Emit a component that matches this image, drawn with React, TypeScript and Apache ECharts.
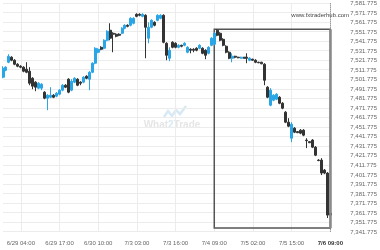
import React, { useEffect, useRef } from "react";
import * as echarts from "echarts";

// candle index of each x tick label
const tickIndex = [6, 19, 32, 45, 58, 71, 84, 97, 110];
const tickLabels = ["6/29 04:00", "6/29 17:00", "6/30 10:00", "7/3 03:00", "7/3 16:00", "7/4 09:00", "7/5 02:00", "7/5 15:00", "7/6 09:00"];

const open = [
  7503.9, 7511.2, 7519.6, 7524.9, 7521.7, 7517.5, 7515.4, 7514.4, 7512.3, 7510.2,
  7502.8, 7498.7, 7492.4, 7492.4, 7488.2, 7481.9, 7482.9, 7485.0, 7484.0, 7486.1,
  7490.3, 7495.5, 7501.8, 7490.3, 7498.7, 7501.8, 7498.7, 7498.7, 7504.9, 7501.8,
  7509.1, 7518.6, 7530.1, 7535.3, 7534.3, 7542.7, 7553.2, 7550.0, 7549.0, 7549.0,
  7550.0, 7555.3, 7558.4, 7558.4, 7560.5, 7569.9, 7569.9, 7567.8, 7568.9, 7544.8,
  7556.3, 7561.5, 7563.6, 7565.7, 7568.9, 7539.5, 7523.8, 7540.6, 7539.5, 7535.3,
  7537.4, 7537.4, 7530.1, 7533.2, 7533.2, 7534.3, 7534.3, 7534.3, 7532.2, 7529.0,
  7537.4, 7538.5, 7553.2, 7550.0, 7543.7, 7536.4, 7530.1, 7523.8, 7525.9, 7524.9,
  7523.8, 7524.9, 7524.9, 7521.7, 7522.8, 7521.7, 7519.6, 7519.6, 7517.5, 7493.4,
  7474.5, 7479.8, 7480.8, 7482.9, 7476.6, 7467.2, 7456.7, 7439.9, 7450.4, 7446.8,
  7448.3, 7448.3, 7437.9, 7436.3, 7437.9, 7430.5, 7416.9, 7416.9, 7406.4, 7403.3,
  7361.3,
];
const close = [
  7513.3, 7514.4, 7525.9, 7521.7, 7517.5, 7515.4, 7514.4, 7510.2, 7509.1, 7497.6,
  7494.5, 7493.4, 7497.6, 7496.6, 7481.9, 7485.0, 7485.0, 7482.9, 7487.1, 7490.3,
  7495.5, 7493.4, 7488.2, 7499.7, 7502.8, 7495.5, 7497.6, 7503.9, 7502.8, 7509.1,
  7518.6, 7534.3, 7533.2, 7533.2, 7542.7, 7552.1, 7544.8, 7549.0, 7546.9, 7547.9,
  7555.3, 7558.4, 7557.3, 7565.7, 7565.7, 7567.8, 7568.9, 7569.9, 7556.3, 7556.3,
  7563.6, 7558.4, 7568.9, 7568.9, 7540.6, 7526.9, 7532.2, 7535.3, 7535.3, 7537.4,
  7536.4, 7539.5, 7535.3, 7532.2, 7532.2, 7532.2, 7537.4, 7529.0, 7526.9, 7535.3,
  7544.8, 7550.0, 7547.9, 7542.7, 7537.4, 7530.1, 7523.8, 7525.9, 7524.9, 7524.3,
  7524.9, 7523.8, 7523.8, 7523.8, 7521.7, 7519.6, 7519.1, 7518.0, 7500.7, 7482.9,
  7490.3, 7485.0, 7486.1, 7476.6, 7471.4, 7456.7, 7452.5, 7454.6, 7446.2, 7445.7,
  7445.2, 7443.1, 7437.3, 7435.2, 7430.5, 7422.1, 7416.4, 7403.3, 7403.3, 7359.2,
  7359.2,
];
const low = [
  7502.8, 7510.2, 7518.6, 7520.7, 7516.5, 7514.4, 7513.3, 7509.1, 7508.1, 7495.5,
  7491.3, 7489.2, 7491.3, 7490.3, 7480.8, 7469.3, 7481.9, 7481.9, 7482.9, 7485.0,
  7489.2, 7492.4, 7487.1, 7489.2, 7497.6, 7494.5, 7495.5, 7497.6, 7501.8, 7490.3,
  7508.1, 7517.5, 7529.0, 7532.2, 7533.2, 7541.6, 7542.7, 7530.1, 7545.8, 7546.9,
  7549.0, 7554.2, 7556.3, 7557.3, 7559.4, 7566.8, 7567.8, 7566.8, 7523.8, 7539.5,
  7555.3, 7557.3, 7562.6, 7564.7, 7539.5, 7521.7, 7520.7, 7534.3, 7534.3, 7534.3,
  7535.3, 7536.4, 7529.0, 7529.0, 7530.1, 7531.1, 7533.2, 7528.0, 7522.8, 7528.0,
  7536.4, 7537.4, 7546.9, 7541.6, 7536.4, 7529.0, 7522.8, 7519.6, 7523.8, 7523.8,
  7523.3, 7523.3, 7518.6, 7520.7, 7521.2, 7518.6, 7518.6, 7517.5, 7495.5, 7481.9,
  7473.5, 7478.7, 7479.8, 7475.6, 7470.3, 7455.7, 7451.5, 7435.8, 7445.2, 7445.2,
  7444.1, 7442.0, 7429.5, 7434.7, 7429.5, 7421.1, 7415.8, 7401.2, 7402.2, 7356.1,
  7358.2,
];
const high = [
  7515.4, 7515.4, 7528.0, 7525.9, 7522.8, 7518.6, 7516.5, 7515.4, 7519.6, 7514.4,
  7503.9, 7499.7, 7498.7, 7497.6, 7489.2, 7486.1, 7493.4, 7486.1, 7488.2, 7491.3,
  7496.6, 7496.6, 7502.8, 7501.8, 7503.9, 7502.8, 7499.7, 7504.9, 7506.0, 7510.2,
  7519.6, 7535.3, 7534.3, 7536.4, 7543.7, 7553.2, 7560.5, 7551.1, 7550.0, 7550.0,
  7556.3, 7559.4, 7559.4, 7566.8, 7566.8, 7571.0, 7571.0, 7571.0, 7569.9, 7561.5,
  7564.7, 7562.6, 7569.9, 7569.9, 7569.9, 7540.6, 7535.3, 7541.6, 7540.6, 7538.5,
  7538.0, 7540.6, 7536.4, 7534.3, 7534.3, 7535.3, 7538.5, 7535.3, 7533.2, 7536.4,
  7545.8, 7551.1, 7554.2, 7551.1, 7544.8, 7537.4, 7531.1, 7529.0, 7526.4, 7525.4,
  7525.4, 7525.2, 7529.0, 7524.9, 7523.3, 7522.8, 7520.1, 7520.1, 7518.6, 7494.5,
  7492.4, 7486.1, 7487.1, 7484.0, 7477.7, 7468.3, 7460.9, 7456.7, 7451.5, 7447.3,
  7449.4, 7449.4, 7439.9, 7436.8, 7438.9, 7431.6, 7417.9, 7419.0, 7407.5, 7404.3,
  7362.4,
];

// pattern box
const boxStart = 71;
const boxEnd = 110;
const boxTop = 7554.2;
const boxBottom = 7345.6;

// y-axis ticks sit at x,xx1.775
const yOffset = 1.775;
const yMin = 7341.775;
const yMax = 7581.775;
const yStep = 10;

const FONT = "'Liberation Sans', Arial, sans-serif";

export default function App() {
  const ref = useRef<HTMLDivElement>(null);
  useEffect(() => {
    if (!ref.current) return;
    const chart = echarts.init(ref.current, undefined, { renderer: "svg" });
    const xData = open.map((_, i) => String(i));
    const data = open.map((o, i) => [o - yOffset, close[i] - yOffset, low[i] - yOffset, high[i] - yOffset]);
    const isTick = (idx: number) => tickIndex.indexOf(idx) >= 0;
    chart.setOption({
      animation: false,
      textStyle: { fontFamily: FONT },
      title: {
        text: "www.fxtraderhub.com",
        right: 26,
        top: 7,
        textStyle: { fontSize: 6, fontWeight: "normal", color: "#444", fontFamily: FONT },
      },
      graphic: [
        {
          type: "polyline",
          silent: true,
          shape: { points: [[164, 117], [168, 111], [172, 116], [176, 110], [180, 114], [186, 106]] },
          style: { stroke: "#d6e9f5", lineWidth: 2.5, fill: null },
          z: 0,
        },
        {
          type: "text",
          silent: true,
          x: 172,
          y: 124,
          style: {
            text: "{a|What}{b|2}{a|Trade}",
            align: "center",
            verticalAlign: "middle",
            rich: {
              a: { fontSize: 10, fontWeight: "bold", fill: "#e6e6e6", fontFamily: FONT },
              b: { fontSize: 10, fontWeight: "bold", fill: "#d6e9f5", fontFamily: FONT },
            },
          },
          z: 0,
        },
      ],
      grid: { left: 3, right: 47, top: 2.7, bottom: 18.3 },
      xAxis: {
        type: "category",
        data: xData,
        boundaryGap: false,
        axisLine: { show: false },
        axisTick: { show: false },
        splitLine: { show: true, interval: (idx: number) => isTick(idx), lineStyle: { color: "#ececec", width: 1 } },
        axisLabel: {
          interval: (idx: number) => isTick(idx),
          fontSize: 6,
          color: "#666",
          margin: 8,
          fontFamily: FONT,
          formatter: (_v: string, idx: number) => {
            const k = tickIndex.indexOf(idx);
            if (k < 0) return "";
            return k === tickIndex.length - 1 ? `{last|${tickLabels[k]}}` : tickLabels[k];
          },
          rich: { last: { fontSize: 6, fontWeight: "bold", color: "#333", fontFamily: FONT } },
        },
      },
      yAxis: {
        type: "value",
        position: "right",
        min: yMin - yOffset,
        max: yMax - yOffset,
        interval: yStep,
        axisLine: { show: false },
        axisTick: { show: false },
        splitLine: { show: true, lineStyle: { color: "#ececec", width: 1 } },
        axisLabel: {
          fontSize: 6,
          color: "#666",
          margin: 20,
          fontFamily: FONT,
          formatter: (v: number) =>
            (v + yOffset).toLocaleString("en-US", { minimumFractionDigits: 3, maximumFractionDigits: 3 }),
        },
      },
      series: [
        {
          type: "candlestick",
          data,
          barWidth: 2.5,
          itemStyle: {
            color: "#2aa6e6",
            color0: "#333333",
            borderColor: "#2aa6e6",
            borderColor0: "#333333",
            borderWidth: 1,
          },
          markArea: {
            silent: true,
            itemStyle: { color: "rgba(0,0,0,0)", borderColor: "#555", borderWidth: 1.5 },
            data: [[
              { coord: [xData[boxStart], boxTop - yOffset] },
              { coord: [xData[boxEnd], boxBottom - yOffset] },
            ]],
          },
          markLine: {
            silent: true,
            symbol: ["none", "none"],
            label: { show: false },
            data: [
              { xAxis: xData[boxEnd], lineStyle: { type: "dotted", color: "#777", width: 1 } },
              [
                { coord: [xData[boxEnd], boxTop - yOffset], lineStyle: { type: "solid", color: "#8a8a8a", width: 2.5 } },
                { coord: [xData[boxEnd], boxBottom - yOffset] },
              ],
            ],
          },
        },
      ],
    });
    return () => chart.dispose();
  }, []);
  return <div ref={ref} style={{ position: "fixed", left: 0, top: 0, width: 380, height: 250 }} />;
}
